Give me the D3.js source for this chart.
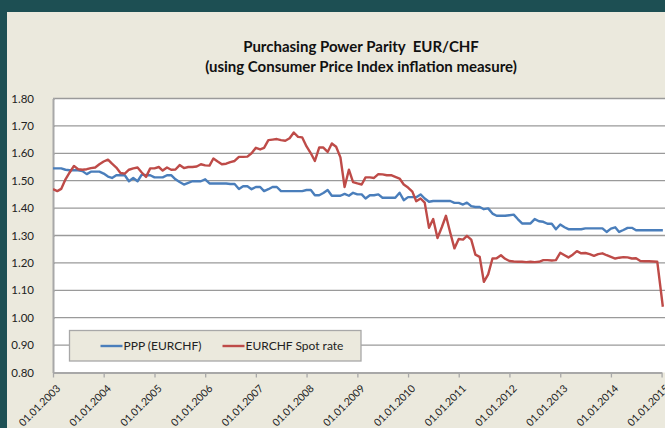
<!DOCTYPE html>
<html>
<head>
<meta charset="utf-8">
<script src="https://cdn.jsdelivr.net/npm/d3@7/dist/d3.min.js"></script>
<style>
  html, body { margin: 0; padding: 0; background: #1d4f53; }
  svg { display: block; }
</style>
</head>
<body>
<div id="chart"></div>
<script>
// monthly observations, Jan 2003 .. Dec 2014, plus the mid-January 2015 drop
const startMonth = new Date(2003, 0, 1);
const lastDate = new Date(2015, 0, 10);

const pppValues = [
  1.545, 1.545, 1.545, 1.540, 1.538, 1.538, 1.538, 1.535, 1.524, 1.533, 1.533, 1.533,
  1.526, 1.515, 1.510, 1.520, 1.520, 1.520, 1.498, 1.510, 1.498, 1.522, 1.520, 1.520,
  1.512, 1.512, 1.512, 1.520, 1.520, 1.505, 1.495, 1.486, 1.492, 1.498, 1.498, 1.498,
  1.505, 1.490, 1.490, 1.490, 1.490, 1.490, 1.488, 1.488, 1.470, 1.480, 1.480, 1.469,
  1.477, 1.477, 1.462, 1.469, 1.477, 1.477, 1.462, 1.462, 1.462, 1.462, 1.462, 1.462,
  1.466, 1.466, 1.447, 1.447, 1.455, 1.466, 1.445, 1.445, 1.445, 1.452, 1.445, 1.456,
  1.450, 1.450, 1.435, 1.447, 1.447, 1.450, 1.438, 1.438, 1.438, 1.438, 1.456, 1.429,
  1.440, 1.440, 1.440, 1.450, 1.435, 1.423, 1.426, 1.426, 1.426, 1.426, 1.426, 1.419,
  1.419, 1.413, 1.420, 1.407, 1.404, 1.404, 1.396, 1.399, 1.380, 1.372, 1.372, 1.372,
  1.374, 1.376, 1.360, 1.344, 1.344, 1.344, 1.360, 1.352, 1.350, 1.343, 1.343, 1.323,
  1.340, 1.330, 1.323, 1.323, 1.323, 1.323, 1.326, 1.326, 1.326, 1.326, 1.326, 1.313,
  1.325, 1.330, 1.313, 1.320, 1.328, 1.328, 1.319, 1.319, 1.319, 1.319, 1.319, 1.319,
  1.319
];

const spotValues = [
  1.469, 1.462, 1.470, 1.505, 1.530, 1.554, 1.542, 1.540, 1.542, 1.546, 1.548, 1.560,
  1.570, 1.577, 1.562, 1.548, 1.528, 1.526, 1.540, 1.545, 1.548, 1.530, 1.514, 1.545,
  1.545, 1.550, 1.537, 1.548, 1.540, 1.541, 1.557, 1.546, 1.550, 1.550, 1.552, 1.560,
  1.556, 1.555, 1.581, 1.570, 1.560, 1.562, 1.568, 1.572, 1.587, 1.587, 1.588, 1.600,
  1.620, 1.614, 1.620, 1.648, 1.650, 1.652, 1.648, 1.646, 1.655, 1.676, 1.660, 1.658,
  1.625, 1.600, 1.572, 1.621, 1.621, 1.605, 1.636, 1.624, 1.585, 1.477, 1.540, 1.495,
  1.490, 1.486, 1.512, 1.512, 1.510, 1.524, 1.523, 1.520, 1.520, 1.514, 1.508, 1.486,
  1.475, 1.460, 1.425, 1.435, 1.420, 1.328, 1.360, 1.291, 1.330, 1.372, 1.310, 1.253,
  1.287, 1.285, 1.299, 1.285, 1.230, 1.222, 1.131, 1.158, 1.216, 1.217, 1.228, 1.215,
  1.207, 1.205, 1.204, 1.204, 1.203, 1.204, 1.203, 1.204, 1.210, 1.210, 1.209, 1.210,
  1.237, 1.228, 1.220, 1.230, 1.243, 1.235, 1.236, 1.232, 1.226, 1.232, 1.235, 1.228,
  1.222, 1.216, 1.219, 1.221, 1.220, 1.216, 1.217, 1.207, 1.206, 1.206, 1.205, 1.204,
  1.040
];

const yTicks = [0.80, 0.90, 1.00, 1.10, 1.20, 1.30, 1.40, 1.50, 1.60, 1.70, 1.80];
const xTickYears = [2003, 2004, 2005, 2006, 2007, 2008, 2009, 2010, 2011, 2012, 2013, 2014, 2015];
const seriesNames = ['PPP (EURCHF)', 'EURCHF Spot rate'];
const seriesColors = ['#4a7ebb', '#be4b48'];
const titleLines = ['Purchasing Power Parity  EUR/CHF', '(using Consumer Price Index inflation measure)'];

const dates = d3.timeMonth.range(startMonth, new Date(2015, 0, 1)).concat([lastDate]);

const totalW = 665, totalH = 428;
const margin = {top: 98.5, right: 0, bottom: 55.5, left: 53};
const W = totalW - margin.left - margin.right;
const H = totalH - margin.top - margin.bottom;
const font = 'Lato, "Open Sans", sans-serif';

const svg = d3.select('#chart').append('svg')
  .attr('width', totalW)
  .attr('height', totalH);

// outer frame: dark band at top and left, beige chart area
svg.append('rect')
  .attr('width', totalW).attr('height', totalH)
  .attr('fill', '#1d4f53');
svg.append('rect')
  .attr('x', 7).attr('y', 12)
  .attr('width', totalW - 7).attr('height', totalH - 12)
  .attr('fill', '#ebe9dd');

svg.append('g')
  .selectAll('text')
  .data(titleLines)
  .join('text')
    .attr('x', 361)
    .attr('y', (d, i) => 52 + i * 20)
    .attr('text-anchor', 'middle')
    .attr('font-family', font)
    .attr('font-weight', 'bold')
    .attr('font-size', '15px')
    .attr('fill', '#111')
    .style('white-space', 'pre')
    .text(d => d);

const g = svg.append('g')
  .attr('transform', 'translate(' + margin.left + ' ' + margin.top + ')');

const xscale = d3.scaleTime()
  .domain([startMonth, new Date(2015, 0, 1)])
  .range([0, 608.6]);
const yscale = d3.scaleLinear()
  .domain([0.80, 1.80])
  .range([H, 0]);

g.append('rect')
  .attr('width', W).attr('height', H)
  .attr('fill', '#fff');

// horizontal gridlines
g.append('g')
  .selectAll('line')
  .data(yTicks.slice(1))
  .join('line')
    .attr('x1', 0).attr('x2', W)
    .attr('y1', d => yscale(d)).attr('y2', d => yscale(d))
    .attr('stroke', '#9a9a9a')
    .attr('stroke-width', 1.3);

// y axis
const yAxis = g.append('g')
  .call(d3.axisLeft(yscale).tickValues(yTicks).tickFormat(d3.format('.2f')).tickSize(5).tickSizeOuter(0));
yAxis.select('.domain').attr('stroke', '#a8a8a8').attr('stroke-width', 2);
yAxis.selectAll('.tick line').attr('stroke', '#a8a8a8').attr('stroke-width', 1.3).attr('x2', 2);
yAxis.selectAll('.tick text')
  .attr('x', -19)
  .attr('font-family', font)
  .attr('font-size', '11.5px')
  .attr('fill', '#222');

// x axis
const xAxis = g.append('g')
  .attr('transform', 'translate(0 ' + H + ')')
  .call(d3.axisBottom(xscale)
    .tickValues(xTickYears.map(y => new Date(y, 0, 1)))
    .tickFormat(d3.timeFormat('%d.%m.%Y'))
    .tickSize(5).tickSizeOuter(0));
xAxis.select('.domain').attr('stroke', '#a8a8a8').attr('stroke-width', 2);
xAxis.selectAll('.tick line').attr('stroke', '#a8a8a8').attr('stroke-width', 1.3);
xAxis.selectAll('.tick text')
  .attr('font-family', font)
  .attr('font-size', '10.5px')
  .attr('fill', '#222')
  .attr('text-anchor', 'end')
  .attr('dy', '0.35em')
  .attr('transform', 'translate(5 14) rotate(-45)')
  .attr('y', 0);

// the two series
const line = d3.line()
  .x((d, i) => xscale(dates[i]))
  .y(d => yscale(d));

g.append('clipPath').attr('id', 'plotclip')
  .append('rect').attr('width', W).attr('height', H);

g.append('g')
  .attr('clip-path', 'url(#plotclip)')
  .selectAll('path')
  .data([pppValues, spotValues])
  .join('path')
    .attr('d', line)
    .attr('fill', 'none')
    .attr('stroke', (d, i) => seriesColors[i])
    .attr('stroke-width', 2.4)
    .attr('stroke-linejoin', 'round');

// legend
const legend = svg.append('g')
  .attr('transform', 'translate(69.5 330.5)');
legend.append('rect')
  .attr('width', 291.5).attr('height', 30.5)
  .attr('fill', '#ebe9dd')
  .attr('stroke', '#a8a8a8')
  .attr('stroke-width', 1.3);
const items = legend.selectAll('g')
  .data(seriesNames)
  .join('g')
    .attr('transform', (d, i) => 'translate(' + (31 + i * 122) + ' 15.5)');
items.append('line')
  .attr('x1', 0).attr('x2', 22)
  .attr('stroke', (d, i) => seriesColors[i])
  .attr('stroke-width', 2.4);
items.append('text')
  .attr('x', 23)
  .attr('dy', '0.35em')
  .attr('font-family', font)
  .attr('font-size', '12px')
  .attr('fill', '#222')
  .text(d => d);
</script>
</body>
</html>
